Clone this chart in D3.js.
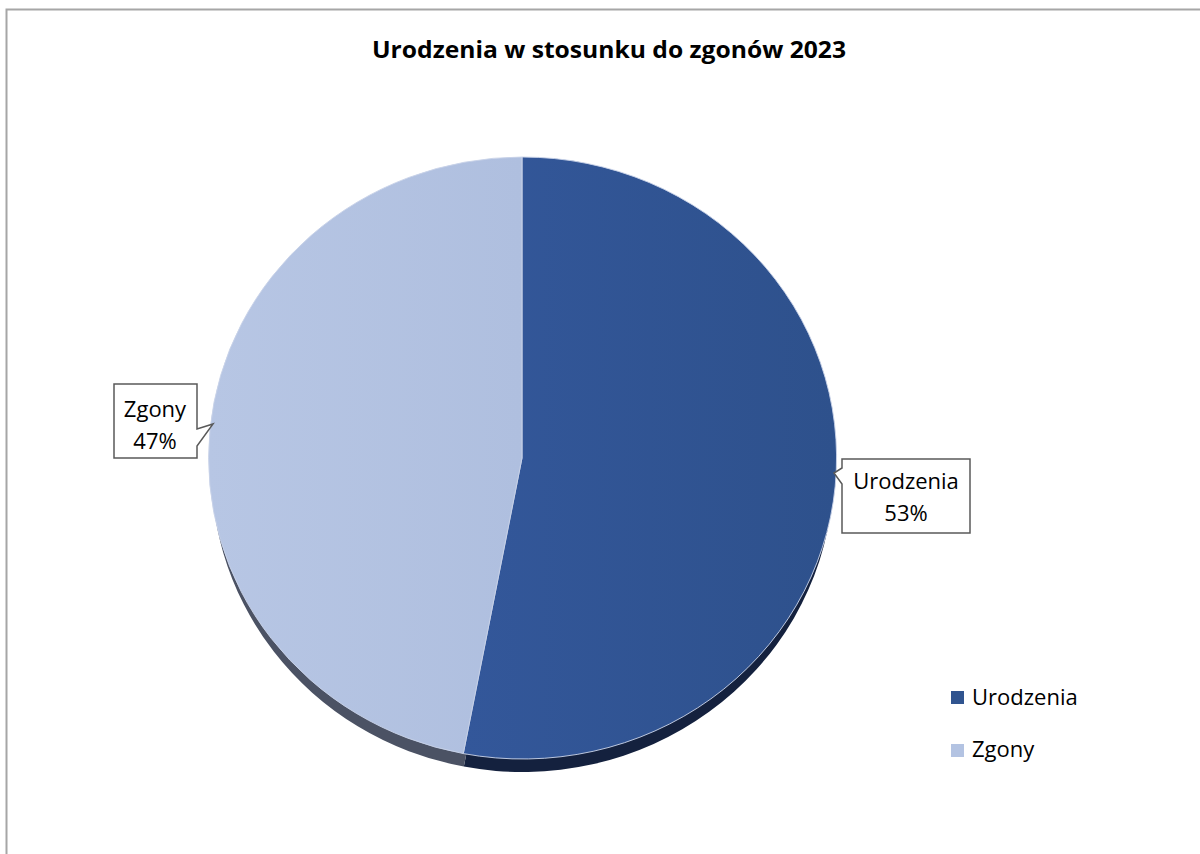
<!DOCTYPE html>
<html><head><meta charset="utf-8">
<script src="https://cdn.jsdelivr.net/npm/d3@7"></script>
<style>body{margin:0;background:#fff}svg{display:block}</style>
</head><body>
<svg id="c" width="1200" height="854"></svg>
<script>
const title = "Urodzenia w stosunku do zgonów 2023";
const categories = ["Urodzenia", "Zgony"];
const values = [53, 47];
const colors = ["#30548f", "#b3c3e2"];
const edgeColors = ["#14213e", "#4b5264"];

const svg = d3.select("#c");
const font = "'Open Sans', sans-serif";

// frame
svg.append("path").attr("d","M6.5,854 L6.5,9.5 L1200,9.5").attr("fill","none").attr("stroke","#a6a6a6").attr("stroke-width",2);

svg.append("text").attr("x",609).attr("y",58).attr("text-anchor","middle")
  .attr("font-family",font).attr("font-weight","bold").attr("font-size",23).attr("fill","#000")
  .attr("textLength",474).attr("lengthAdjust","spacingAndGlyphs").text(title);

const cx = 522, cy = 458, rx = 314, ry = 301, depth = 13;
const pie = d3.pie().sort(null).value(d=>d)(values);
const arc = d3.arc().innerRadius(0).outerRadius(1);

const defs = svg.append("defs");
const g1 = defs.append("linearGradient").attr("id","gd").attr("x1","0").attr("x2","1");
g1.append("stop").attr("offset","0").attr("stop-color","#33579a");
g1.append("stop").attr("offset","1").attr("stop-color","#2e518c");
const g2 = defs.append("linearGradient").attr("id","gl").attr("x1","0").attr("x2","1");
g2.append("stop").attr("offset","0").attr("stop-color","#b7c6e4");
g2.append("stop").attr("offset","1").attr("stop-color","#afbfdf");
const fills = ["url(#gd)","url(#gl)"];

// side edge
svg.append("g").attr("transform",`translate(${cx},${cy+depth}) scale(${rx-3},${ry})`)
  .selectAll("path").data(pie).join("path").attr("d",arc).attr("fill",(d,i)=>edgeColors[i]);
// face
svg.append("g").attr("transform",`translate(${cx},${cy}) scale(${rx},${ry})`)
  .selectAll("path").data(pie).join("path").attr("d",arc).attr("fill",(d,i)=>fills[i])
  .attr("stroke","#c9d3e8").attr("stroke-width",0.003);

// callouts
function callout(box, ptr, lines, cxT, y0){
  const [x0,y0b,x1,y1b] = box;
  const g = svg.append("g");
  g.append("path").attr("d",ptr(x0,y0b,x1,y1b)).attr("fill","#fff").attr("stroke","#595959").attr("stroke-width",1.5);
  lines.forEach((t,i)=>g.append("text").attr("x",cxT).attr("y",y0+i*32).attr("text-anchor","middle")
     .attr("font-family",font).attr("font-size",22).attr("fill","#000").text(t));
}
const fmt = v => Math.round(v/d3.sum(values)*100)+"%";
// Zgony (pointer on right)
callout([114,384,197,458],(x0,y0,x1,y1)=>`M${x0},${y0}H${x1}V429L213,424L${x1},446V${y1}H${x0}Z`,
  [categories[1], fmt(values[1])],155,417);
// Urodzenia (pointer on left)
callout([842,459,970,533],(x0,y0,x1,y1)=>`M${x0},${y0}H${x1}V${y1}H${x0}V484L834,473L${x0},468Z`,
  [categories[0], fmt(values[0])],906,489);

// legend
const lg = svg.append("g");
categories.forEach((c,i)=>{
  lg.append("rect").attr("x",951).attr("y",691+i*53).attr("width",13).attr("height",13).attr("fill",colors[i]);
  lg.append("text").attr("x",972).attr("y",705+i*52).attr("font-family",font).attr("font-size",22).attr("fill","#000").text(c);
});
</script>
</body></html>
